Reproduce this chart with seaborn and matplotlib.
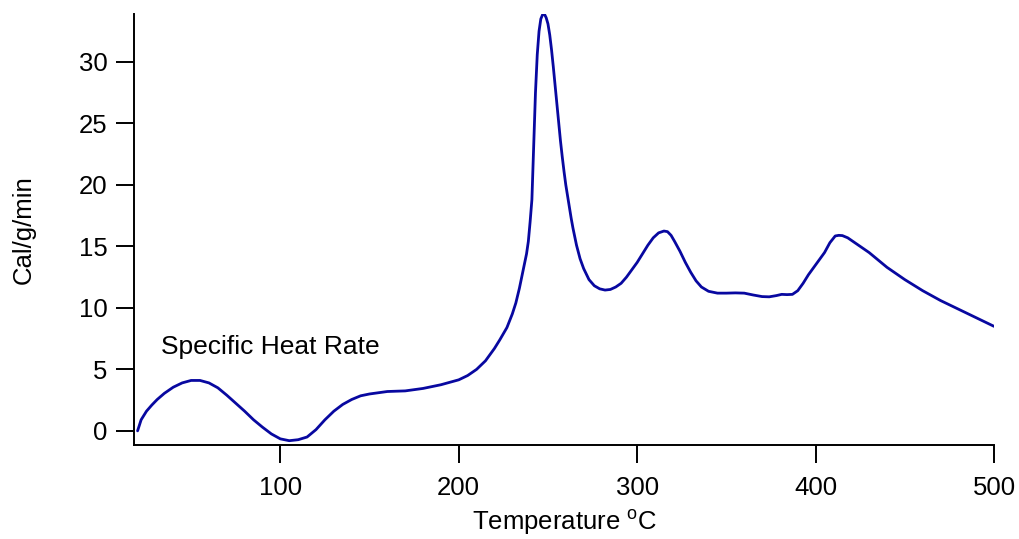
import matplotlib
matplotlib.use("Agg")
import matplotlib.pyplot as plt
import seaborn as sns
import pandas as pd

# Specific heat rate curve
temperature = [20, 22, 25, 28, 31, 35, 40, 45, 50, 55, 60, 65, 70, 75, 80, 85,
               90, 95, 100, 105, 110, 115, 120, 125, 130, 135, 140, 145, 150,
               160, 170, 180, 190, 200, 205, 210, 215, 220, 223, 227, 230, 232,
               234, 236, 238, 239, 240, 241, 242, 243, 244, 245, 246, 247, 248,
               249, 250, 251, 252, 253, 254, 255, 256, 257, 258, 259, 260, 261,
               262, 263, 264, 266, 268, 270, 273, 276, 279, 282, 285, 288, 291,
               294, 297, 300, 303, 306, 309, 312, 315, 317, 319, 321, 324, 327,
               330, 333, 336, 340, 345, 350, 355, 360, 365, 370, 374, 378, 381,
               384, 387, 390, 393, 396, 399, 402, 405, 408, 411, 413, 415, 418,
               422, 426, 430, 440, 450, 460, 470, 480, 490, 500]
heat_rate = [0.0, 0.9, 1.6, 2.1, 2.55, 3.05, 3.55, 3.9, 4.1, 4.1, 3.9, 3.5,
             2.9, 2.25, 1.6, 0.9, 0.3, -0.25, -0.65, -0.8, -0.72, -0.5, 0.1,
             0.9, 1.6, 2.15, 2.55, 2.85, 3.0, 3.2, 3.25, 3.45, 3.75, 4.15, 4.5,
             5.0, 5.7, 6.7, 7.4, 8.4, 9.5, 10.4, 11.6, 13.0, 14.4, 15.4, 17.0,
             18.8, 23.2, 27.5, 30.6, 32.5, 33.5, 33.85, 33.9, 33.6, 33.1, 32.2,
             31.0, 29.6, 28.1, 26.6, 25.1, 23.6, 22.3, 21.1, 20.0, 19.1, 18.2,
             17.3, 16.5, 15.1, 14.0, 13.2, 12.3, 11.8, 11.55, 11.45, 11.5,
             11.7, 12.0, 12.5, 13.1, 13.7, 14.4, 15.1, 15.7, 16.1, 16.25, 16.2,
             15.9, 15.4, 14.6, 13.7, 12.9, 12.2, 11.7, 11.35, 11.2, 11.2, 11.22,
             11.2, 11.05, 10.92, 10.9, 11.0, 11.1, 11.08, 11.1, 11.4, 12.0,
             12.7, 13.3, 13.9, 14.5, 15.3, 15.85, 15.9, 15.88, 15.7, 15.3,
             14.9, 14.5, 13.3, 12.3, 11.4, 10.6, 9.9, 9.2, 8.5]

x_ticks = [100, 200, 300, 400, 500]
y_ticks = [0, 5, 10, 15, 20, 25, 30]

df = pd.DataFrame({"temperature": temperature, "heat_rate": heat_rate})

sns.set_style("ticks")
plt.rcParams["font.family"] = ["Liberation Sans", "DejaVu Sans"]
plt.rcParams["text.color"] = "black"
plt.rcParams["axes.labelcolor"] = "black"
plt.rcParams["mathtext.fontset"] = "custom"
plt.rcParams["mathtext.rm"] = "Liberation Sans"
plt.rcParams["mathtext.it"] = "Liberation Sans:italic"
plt.rcParams["mathtext.default"] = "rm"

fig = plt.figure(figsize=(10.19, 5.39), dpi=100)
ax = fig.add_axes([0.1315, 0.1744, 0.844, 0.7996])

sns.lineplot(data=df, x="temperature", y="heat_rate", ax=ax,
             color="#0808a0", linewidth=2.0, sort=False)

ax.set_xlim(18, 500)
ax.set_ylim(-1.15, 33.9)
ax.set_xticks(x_ticks)
ax.set_yticks(y_ticks)

for side in ["top", "right"]:
    ax.spines[side].set_visible(False)
for side in ["left", "bottom"]:
    ax.spines[side].set_linewidth(1.4)
    ax.spines[side].set_color("black")

ax.tick_params(axis="both", direction="out", length=13, width=1.4,
               labelsize=18.5, colors="black")
ax.tick_params(axis="x", pad=9)
ax.tick_params(axis="y", pad=6)

ax.set_xlabel("Temperature $^\\mathrm{o}$C", fontsize=18.5, labelpad=6)
ax.set_ylabel("Cal/g/min", fontsize=18.5, labelpad=31)

ax.text(33, 6.8, "Specific Heat Rate", fontsize=19, ha="left", va="center")

fig.savefig("out.png", dpi=100)
